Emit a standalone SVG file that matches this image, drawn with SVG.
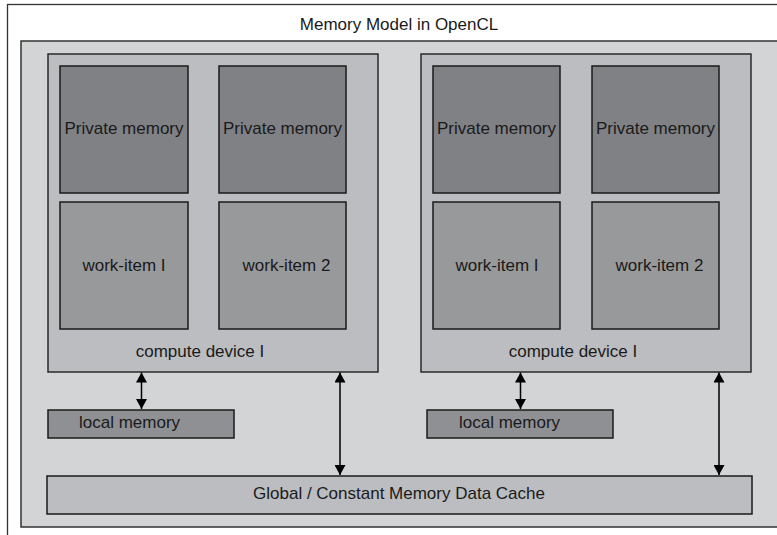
<svg xmlns="http://www.w3.org/2000/svg" width="777" height="535" viewBox="0 0 777 535">
<style>
text{font-family:"Liberation Sans",Arial,sans-serif;font-size:17px;fill:#1a1a1a}
.frame{fill:#ffffff;stroke:#333;stroke-width:1.3}
.panel{fill:#d3d4d6;stroke:#333;stroke-width:1.5}
.device{fill:#bcbdc0;stroke:#2a2a2a;stroke-width:1.5}
.priv{fill:#808185;stroke:#1a1a1a;stroke-width:1.5}
.work{fill:#98999b;stroke:#1a1a1a;stroke-width:1.5}
.local{fill:#8f9093;stroke:#1a1a1a;stroke-width:1.5}
.global{fill:#bcbdc0;stroke:#1a1a1a;stroke-width:1.5}
.conn{stroke:#000;stroke-width:1.5;fill:none;marker-start:url(#ah);marker-end:url(#ah)}
</style>
<defs>
<marker id="ah" viewBox="0 0 10 11" refX="10" refY="5.5" markerWidth="10" markerHeight="11" markerUnits="userSpaceOnUse" orient="auto-start-reverse">
<path d="M0,0 L10,5.5 L0,11 Z" fill="#000"/>
</marker>
</defs>
<rect class="frame" x="7.5" y="4.5" width="800" height="600"/>
<text x="399" y="30" text-anchor="middle">Memory Model in OpenCL</text>
<rect class="panel" x="21" y="41" width="800" height="486"/>

<g id="device1">
<rect class="device" x="48" y="54" width="330" height="318"/>
<text x="200" y="357" text-anchor="middle">compute device I</text>
</g>
<g id="priv1a">
<rect class="priv" x="60" y="66" width="128" height="127"/>
<text x="124" y="134" text-anchor="middle">Private memory</text>
</g>
<g id="priv1b">
<rect class="priv" x="219" y="66" width="127" height="127"/>
<text x="282.5" y="134" text-anchor="middle">Private memory</text>
</g>
<g id="work1a">
<rect class="work" x="60" y="202" width="128" height="127"/>
<text x="124" y="271" text-anchor="middle">work-item I</text>
</g>
<g id="work1b">
<rect class="work" x="219" y="202" width="127" height="127"/>
<text x="286.5" y="271" text-anchor="middle">work-item 2</text>
</g>
<g id="local1">
<rect class="local" x="48" y="410" width="186" height="28"/>
<text x="79" y="428">local memory</text>
</g>

<g id="device2">
<rect class="device" x="421" y="54" width="330" height="318"/>
<text x="573" y="357" text-anchor="middle">compute device I</text>
</g>
<g id="priv2a">
<rect class="priv" x="433" y="66" width="127" height="127"/>
<text x="496.5" y="134" text-anchor="middle">Private memory</text>
</g>
<g id="priv2b">
<rect class="priv" x="592" y="66" width="127" height="127"/>
<text x="655.5" y="134" text-anchor="middle">Private memory</text>
</g>
<g id="work2a">
<rect class="work" x="433" y="202" width="127" height="127"/>
<text x="497" y="271" text-anchor="middle">work-item I</text>
</g>
<g id="work2b">
<rect class="work" x="592" y="202" width="127" height="127"/>
<text x="659.5" y="271" text-anchor="middle">work-item 2</text>
</g>
<g id="local2">
<rect class="local" x="427" y="410" width="186" height="28"/>
<text x="459" y="428">local memory</text>
</g>

<g id="global">
<rect class="global" x="47" y="476" width="705" height="38"/>
<text x="399" y="499" text-anchor="middle">Global / Constant Memory Data Cache</text>
</g>

<g id="connectors">
<line class="conn" x1="141.5" y1="372.5" x2="141.5" y2="409"/>
<line class="conn" x1="340" y1="372.5" x2="340" y2="475"/>
<line class="conn" x1="520.5" y1="372.5" x2="520.5" y2="409"/>
<line class="conn" x1="719" y1="372.5" x2="719" y2="475"/>
</g>
</svg>
